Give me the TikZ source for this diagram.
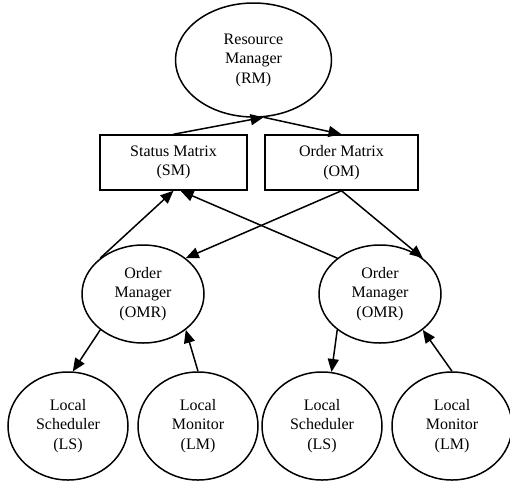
\documentclass[tikz,border=0pt]{standalone}
\usepackage{fontspec}
\setmainfont{Liberation Serif}
\usetikzlibrary{arrows.meta,shapes.geometric,calc}

\tikzset{
  unit/.style={ellipse, draw, line width=1.5pt, inner sep=0pt, align=center,
    minimum width=120pt, minimum height=108pt,
    font=\fontsize{16}{19.5}\selectfont},
  matrixbox/.style={rectangle, draw, line width=1.5pt, inner sep=0pt, align=center,
    minimum height=55pt, font=\fontsize{16}{19.5}\selectfont},
  link/.style={line width=1.5pt, -{Triangle[length=13pt,width=11pt]}}
}

\begin{document}
\begin{tikzpicture}[x=1pt,y=-1pt]
    \useasboundingbox (0,0) rectangle (510,485);

    % top level
    \node(rm) [unit, minimum width=156pt, minimum height=114pt] at (253.5,60) {Resource\\Manager\\(RM)};
    \node(sm) [matrixbox, minimum width=147pt] at (173.5,162.5) {Status Matrix\\(SM)};
    \node(om) [matrixbox, minimum width=153pt] at (341.5,162.5) {Order Matrix\\(OM)};

    % order managers
    \node(omrL) [unit, minimum width=122pt, minimum height=98pt] at (143,294) {Order\\Manager\\(OMR)};
    \node(omrR) [unit, minimum width=122pt, minimum height=98pt] at (380,294) {Order\\Manager\\(OMR)};

    % local units
    \node(lsL) [unit] at (68,426) {Local\\Scheduler\\(LS)};
    \node(lmL) [unit] at (198,426) {Local\\Monitor\\(LM)};
    \node(lsR) [unit] at (322,426) {Local\\Scheduler\\(LS)};
    \node(lmR) [unit] at (452,426) {Local\\Monitor\\(LM)};

    \draw[link] (sm.north) -- (rm.-80);
    \draw[link] (rm.-80) -- (om.north);
    \draw[link] (omrL.140) -- (sm.south);
    \draw[link] (omrR.140) -- ([xshift=7pt]sm.south);
    \draw[link] (om.south) -- (omrL.40);
    \draw[link] (om.south) -- (omrR.40);
    \draw[link] (omrL.220) -- (lsL.85);
    \draw[link] (lmL.north) -- (omrL.320);
    \draw[link] (omrR.220) -- (lsR.80);
    \draw[link] (lmR.north) -- (omrR.320);
\end{tikzpicture}
\end{document}
